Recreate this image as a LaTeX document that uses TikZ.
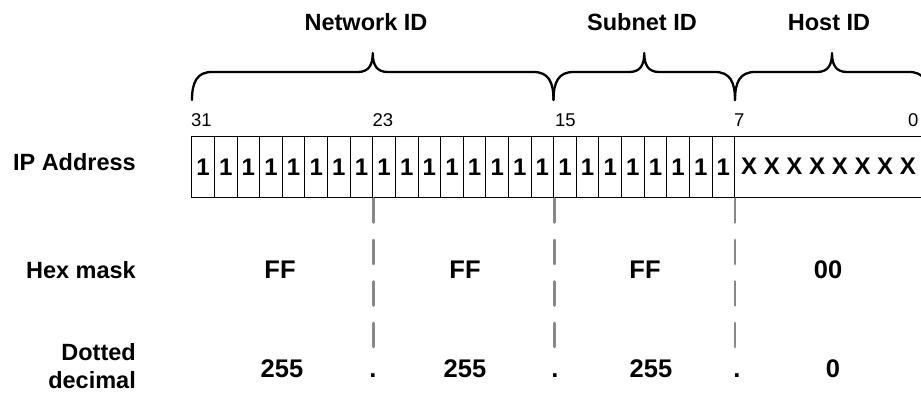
\documentclass[tikz,border=0pt]{standalone}
\usepackage{fontspec}
\setmainfont{Liberation Sans}
\definecolor{dashgray}{HTML}{888888}
\begin{document}
\begin{tikzpicture}[x=1pt,y=-1pt,
  title/.style={font=\fontsize{23.5}{28}\selectfont\bfseries, inner sep=0pt, anchor=base},
  rowlabel/.style={font=\fontsize{23.5}{28.5}\selectfont\bfseries, inner sep=0pt, align=right},
  bitnum/.style={font=\fontsize{18.5}{22}\selectfont, inner sep=0pt, anchor=base west},
  cell/.style={draw=black, line width=1pt, minimum width=22.62pt, minimum height=60pt, inner sep=0pt, font=\fontsize{24}{28}\selectfont\bfseries},
  hostbox/.style={draw=black, line width=1pt, minimum width=195pt, minimum height=60pt, inner sep=0pt},
  bitval/.style={font=\fontsize{24}{28}\selectfont\bfseries, inner sep=0pt, anchor=base},
  value/.style={font=\fontsize{25.5}{30}\selectfont\bfseries, inner sep=0pt, anchor=base},
  bracepath/.style={line width=2.3pt, line join=round, line cap=round},
  sepline/.style={draw=dashgray, line width=2.6pt, line cap=round, dash pattern=on 24pt off 17.5pt}]
\useasboundingbox (0,0) rectangle (921,393);

% titles
\node[title] (tnet) at (366,31) {Network ID};
\node[title] (tsub) at (642,31) {Subnet ID};
\node[title] (thost) at (829,31) {Host ID};

% braces
\foreach \a/\b in {192/553.5, 553.5/735, 735/929}{
  \pgfmathsetmacro\bm{(\a+\b)/2}
  \draw[bracepath] (\a,100) .. controls (\a,82) and ({\a+5},72) .. ({\a+20},72)
    -- ({\bm-15},72) .. controls ({\bm-4},72) and (\bm,65) .. (\bm,53)
    .. controls (\bm,65) and ({\bm+4},72) .. ({\bm+15},72)
    -- ({\b-20},72) .. controls ({\b-5},72) and (\b,82) .. (\b,100);
}

% bit numbers
\node[bitnum] (n31) at (191,127) {31};
\node[bitnum] (n23) at (372.5,127) {23};
\node[bitnum] (n15) at (555,127) {15};
\node[bitnum] (n7) at (734,127) {7};
\node[bitnum] (n0) at (908,127) {0};

% row labels
\node[rowlabel, anchor=base east] (lip) at (136,171) {IP Address};
\node[rowlabel, anchor=base east] (lhex) at (136,278) {Hex mask};
\node[rowlabel, anchor=east] (ldot) at (136,366) {Dotted\\decimal};

% cells
\foreach \i in {0,...,23}{
  \node[cell] (c\i) at ({191.8+22.62*\i+11.31},167) {1};
}
\node[hostbox] (host) at ({734.7+97.5},167) {};
\node[bitval] (xs) at (828.5,175) {X X X X X X X X};

% dashed separators
\coordinate (d1) at (c7.south east |- 0,347);
\coordinate (d2) at (c15.south east |- 0,347);
\coordinate (d3) at (c23.south east |- 0,347);
\draw[sepline] ([yshift=-1pt]c7.south east) -- (d1);
\draw[sepline] ([yshift=-1pt]c15.south east) -- (d2);
\draw[sepline] ([yshift=-1pt]c23.south east) -- (d3);

% hex mask
\node[value] (h1) at (280,278) {FF};
\node[value] (h2) at (465,278) {FF};
\node[value] (h3) at (645,278) {FF};
\node[value] (h4) at (828,278) {00};

% dotted decimal
\node[value] (v1) at (282,377) {255};
\node[value] (p1) at (373,377) {.};
\node[value] (v2) at (465,377) {255};
\node[value] (p2) at (555,377) {.};
\node[value] (v3) at (651,377) {255};
\node[value] (p3) at (737,377) {.};
\node[value] (v4) at (833,377) {0};
\end{tikzpicture}
\end{document}
